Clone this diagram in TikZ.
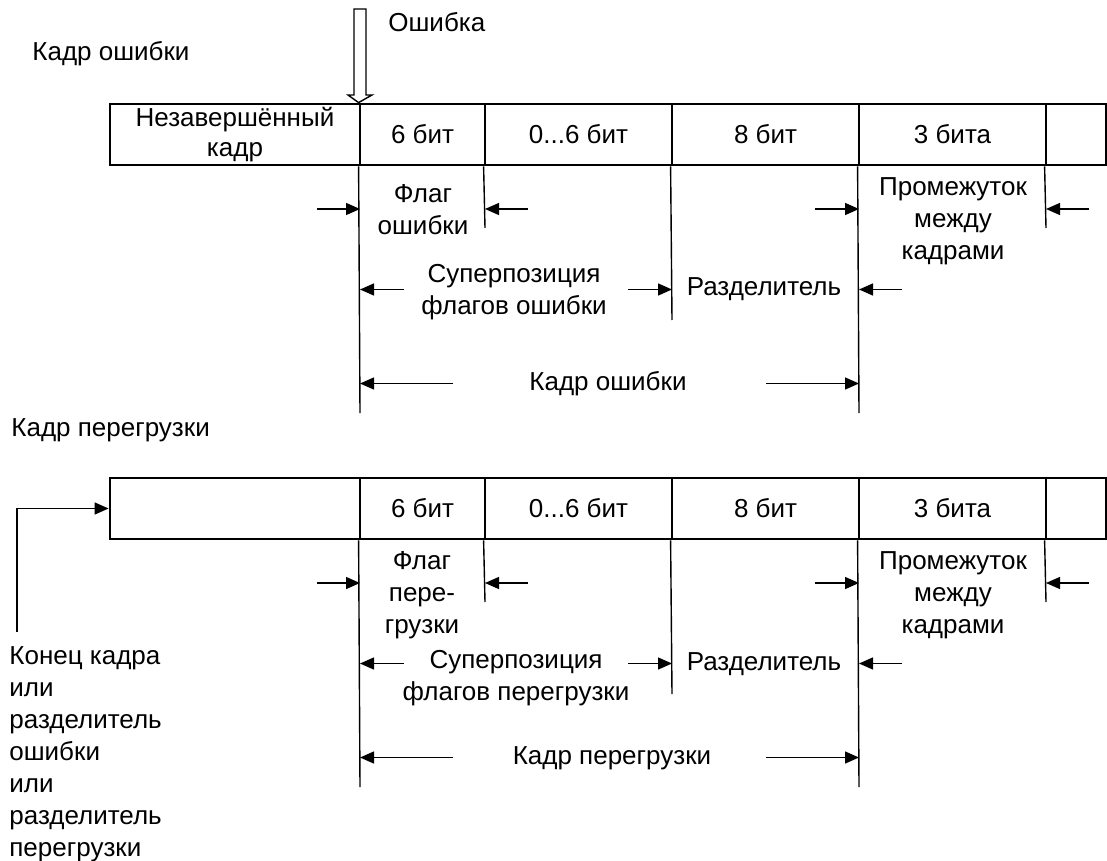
\documentclass[tikz,border=0pt]{standalone}
\usepackage{fontspec}
\setmainfont{Liberation Sans}
\usetikzlibrary{arrows.meta}
\tikzset{
  txt/.style={font=\fontsize{13}{16}\selectfont, inner sep=0pt, align=center},
  cell/.style={txt, draw, line width=1.4pt, rectangle, minimum height=30.5pt, anchor=center},
  guide/.style={line width=0.7pt},
  dim/.style={line width=0.7pt, -{Triangle[length=7pt,width=6pt]}},
}
\begin{document}
\begin{tikzpicture}[x=0.5pt,y=-0.5pt]
\useasboundingbox (0,0) rectangle (1107,861);

% top labels
\node[txt, anchor=west] (lblerr) at (32,54) {Кадр ошибки};
\node[txt, anchor=west] (lblerror) at (388,22) {Ошибка};
\node[txt, anchor=west] (lblover) at (11,430) {Кадр перегрузки};

\foreach \r/\o in {a/0,b/374}{
  \pgfmathsetmacro\yc{134.5+\o}
  \node[cell, minimum width=125pt]  (\r c1) at (235,\yc) {};
  \node[cell, minimum width=62.5pt] (\r c2) at (422.5,\yc) {6 бит};
  \node[cell, minimum width=93.5pt] (\r c3) at (578.5,\yc) {0...6 бит};
  \node[cell, minimum width=93.5pt] (\r c4) at (765.5,\yc) {8 бит};
  \node[cell, minimum width=93.5pt] (\r c5) at (952.5,\yc) {3 бита};
  \node[cell, minimum width=30pt]   (\r c6) at (1076,\yc) {};
  % guide lines
  \pgfmathsetmacro\yA{209+\o}
  \pgfmathsetmacro\yB{289.5+\o}
  \pgfmathsetmacro\yC{383.5+\o}
  \pgfmathsetmacro\eS{228+\o}
  \pgfmathsetmacro\eM{320+\o}
  \pgfmathsetmacro\eL{413+\o}
  \coordinate (\r e2) at (360,\eL);
  \coordinate (\r e3) at (485,\eS);
  \coordinate (\r e4) at (672,\eM);
  \coordinate (\r e5) at (859,\eL);
  \coordinate (\r e6) at (1046,\eS);
  \draw[guide] (\r c2.south west) -- (\r e2);
  \draw[guide] (\r c3.south west) -- (\r e3);
  \draw[guide] (\r c4.south west) -- (\r e4);
  \draw[guide] (\r c5.south west) -- (\r e5);
  \draw[guide] (\r c6.south west) -- (\r e6);
  % arrows, first level
  \coordinate (\r t1) at (317,\yA);
  \coordinate (\r t2) at (528,\yA);
  \coordinate (\r t3) at (815,\yA);
  \coordinate (\r t4) at (1089,\yA);
  \draw[dim] (\r t1) -- (\r e2 |- \r t1);
  \draw[dim] (\r t2) -- (\r e3 |- \r t2);
  \draw[dim] (\r t3) -- (\r e5 |- \r t3);
  \draw[dim] (\r t4) -- (\r e6 |- \r t4);
  % second level
  \coordinate (\r t5) at (404,\yB);
  \coordinate (\r t6) at (628,\yB);
  \coordinate (\r t7) at (902,\yB);
  \draw[dim] (\r t5) -- (\r e2 |- \r t5);
  \draw[dim] (\r t6) -- (\r e4 |- \r t6);
  \draw[dim] (\r t7) -- (\r e5 |- \r t7);
  % third level
  \coordinate (\r t8) at (453,\yC);
  \coordinate (\r t9) at (766,\yC);
  \draw[dim] (\r t8) -- (\r e2 |- \r t8);
  \draw[dim] (\r t9) -- (\r e5 |- \r t9);
}

% row 1 texts
\node[txt] (ac1t) at (235,134.5) {Незавершённый\\[-1pt]кадр};
\node[txt] (aflag) at (423,210) {Флаг\\ошибки};
\node[txt] (agap) at (953,221) {Промежуток\\между\\кадрами};
\node[txt] (asup) at (514,292) {Суперпозиция\\флагов ошибки};
\node[txt] (asep) at (764,289.5) {Разделитель};
\node[txt] (aframe) at (608,383.5) {Кадр ошибки};

% row 2 texts
\node[txt] (bflag) at (422,595) {Флаг\\пере-\\грузки};
\node[txt] (bgap) at (953,595) {Промежуток\\между\\кадрами};
\node[txt] (bsup) at (516,678) {Суперпозиция\\флагов перегрузки};
\node[txt] (bsep) at (764,664) {Разделитель};
\node[txt] (bframe) at (612,758) {Кадр перегрузки};

% hollow error arrow
\draw[line width=0.7pt, fill=white] (354,9) -- (366,9) -- (366,95) -- (372,95) -- (ac2.north west) -- (348,95) -- (354,95) -- cycle;

% left label and connector
\node[txt, anchor=north west, align=left] (endlbl) at (9,646) {Конец кадра\\или\\разделитель\\ошибки\\или\\разделитель\\перегрузки};
\coordinate (lstart) at (17,632);
\draw[dim] (lstart) |- (bc1.west);
\end{tikzpicture}
\end{document}
